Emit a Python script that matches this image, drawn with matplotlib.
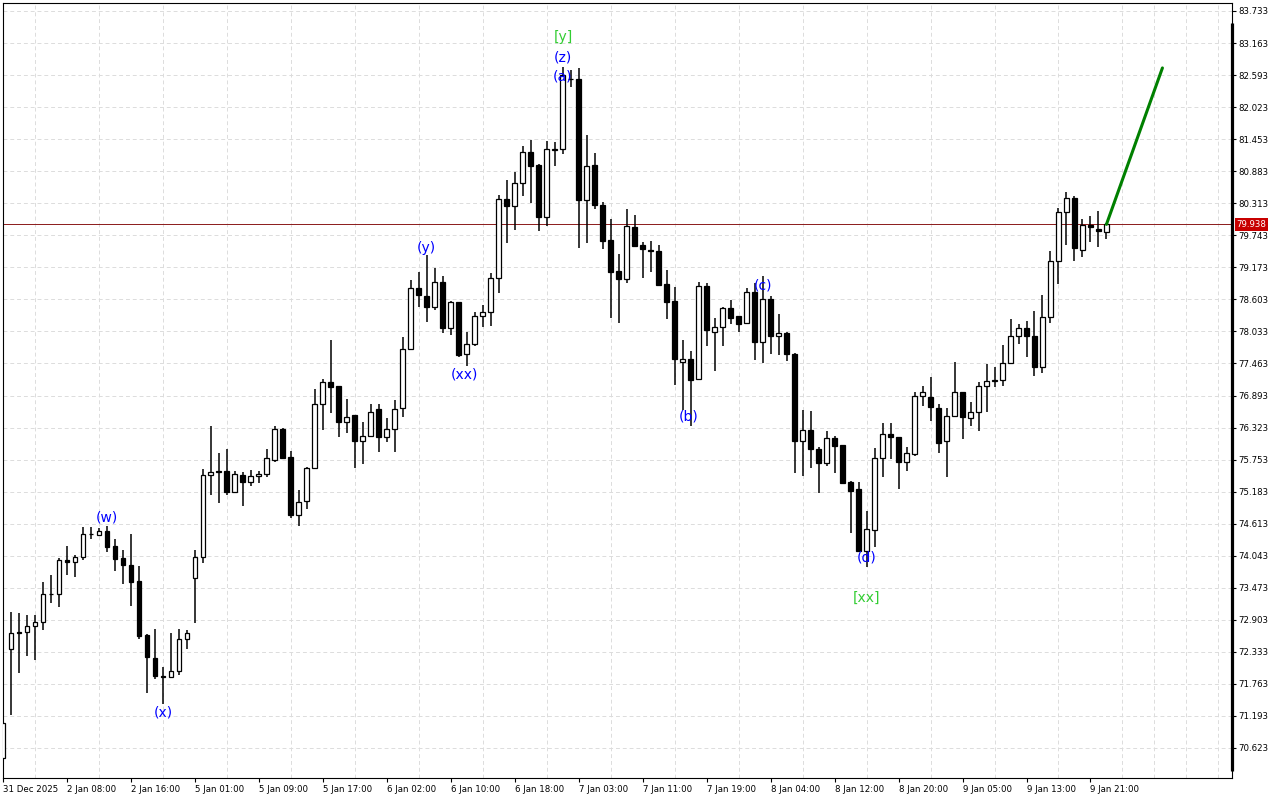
import matplotlib
matplotlib.use('Agg')
import matplotlib.pyplot as plt
import matplotlib.transforms as mtransforms

# hourly candles, bar 0 = 31 Dec 2025
opens = [70.445, 72.384, 72.687, 72.687, 72.793, 72.864, 73.363, 73.363, 73.968, 73.932,
         74.021, 74.430, 74.412, 74.483, 74.217, 74.003, 73.879, 73.594, 72.634, 72.224,
         71.904, 71.886, 71.993, 72.562, 73.647, 74.021, 75.480, 75.551, 75.551, 75.177,
         75.480, 75.355, 75.462, 75.498, 75.747, 76.298, 75.800, 74.768, 75.017, 75.604,
         76.743, 77.134, 77.063, 76.423, 76.547, 76.084, 76.173, 76.654, 76.155, 76.298,
         76.672, 77.721, 78.806, 78.664, 78.468, 78.913, 78.095, 78.557, 77.633, 77.811,
         78.308, 78.379, 78.984, 80.389, 80.264, 80.673, 81.225, 80.994, 80.069, 81.261,
         81.279, 82.524, 82.524, 80.371, 80.994, 80.282, 79.660, 79.108, 78.966, 79.891,
         79.571, 79.482, 79.464, 78.877, 78.575, 77.490, 77.543, 77.188, 78.842, 78.024,
         78.113, 78.450, 78.308, 78.184, 78.735, 77.846, 78.611, 77.952, 78.006, 77.633,
         76.084, 76.280, 75.942, 75.693, 76.138, 76.013, 75.355, 75.231, 74.128, 74.501,
         75.782, 76.209, 76.155, 75.711, 75.853, 76.885, 76.868, 76.672, 76.084, 76.529,
         76.957, 76.494, 76.601, 77.063, 77.152, 77.170, 77.472, 77.952, 78.095, 77.952,
         77.401, 78.290, 79.286, 80.158, 80.407, 79.482, 79.927, 79.856, 79.802]
highs = [71.068, 73.043, 73.025, 72.989, 72.989, 73.576, 73.701, 74.003, 74.217, 74.057,
         74.555, 74.555, 74.537, 74.572, 74.341, 74.146, 74.430, 73.861, 72.651, 72.740,
         72.064, 72.669, 72.740, 72.722, 74.146, 75.587, 76.352, 75.871, 75.942, 75.551,
         75.534, 75.569, 75.551, 75.942, 76.352, 76.316, 75.907, 75.213, 75.622, 77.010,
         77.188, 77.881, 77.063, 76.832, 76.547, 76.423, 76.743, 76.743, 76.494, 76.814,
         77.934, 78.948, 79.090, 79.393, 79.161, 79.019, 78.575, 78.557, 78.024, 78.379,
         78.504, 79.072, 80.460, 80.727, 80.869, 81.332, 81.439, 81.012, 81.421, 81.403,
         82.737, 82.684, 82.719, 81.528, 81.207, 80.336, 80.033, 79.411, 80.211, 80.104,
         79.624, 79.642, 79.571, 79.126, 78.824, 77.881, 77.686, 78.913, 78.895, 78.273,
         78.468, 78.593, 78.308, 78.806, 78.895, 79.019, 78.664, 78.344, 78.024, 77.650,
         76.636, 76.619, 75.978, 76.262, 76.173, 76.013, 75.373, 75.355, 74.839, 75.960,
         76.405, 76.405, 76.155, 75.978, 76.957, 77.063, 77.223, 76.743, 76.672, 77.490,
         76.957, 76.778, 77.134, 77.454, 77.401, 77.792, 78.255, 78.166, 78.219, 78.397,
         78.682, 79.464, 80.229, 80.514, 80.442, 80.033, 80.087, 80.176, 79.962]
lows = [70.445, 71.210, 71.957, 72.260, 72.189, 72.722, 73.203, 73.131, 73.701, 73.665,
        73.968, 74.341, 74.394, 74.110, 73.772, 73.541, 73.149, 72.562, 71.602, 71.850,
        71.406, 71.868, 71.922, 72.384, 72.846, 73.914, 75.124, 74.982, 75.124, 75.160,
        74.928, 75.284, 75.337, 75.444, 75.711, 75.782, 74.715, 74.572, 74.875, 75.604,
        76.280, 76.583, 76.155, 76.227, 75.604, 75.676, 76.155, 75.889, 76.066, 75.889,
        76.512, 77.703, 78.468, 78.202, 78.415, 78.006, 77.970, 77.579, 77.419, 77.775,
        78.113, 78.130, 78.718, 79.606, 79.838, 80.442, 80.318, 79.820, 79.909, 80.976,
        81.190, 82.381, 79.518, 79.606, 80.211, 79.500, 78.273, 78.184, 78.895, 79.553,
        78.984, 79.090, 78.842, 78.255, 77.081, 76.636, 76.352, 77.188, 77.775, 77.330,
        77.775, 78.166, 78.024, 78.166, 77.526, 77.472, 77.633, 77.615, 77.508, 75.516,
        75.462, 75.604, 75.160, 75.640, 75.516, 75.337, 74.448, 74.128, 73.843, 74.199,
        75.444, 75.764, 75.231, 75.551, 75.818, 76.707, 76.441, 75.871, 75.444, 76.529,
        76.120, 76.352, 76.262, 76.601, 77.045, 77.063, 77.472, 77.811, 77.579, 77.241,
        77.294, 78.184, 78.877, 79.571, 79.286, 79.358, 79.624, 79.535, 79.676]
closes = [71.068, 72.669, 72.669, 72.793, 72.864, 73.363, 73.354, 73.968, 73.932, 74.021,
          74.430, 74.425, 74.483, 74.199, 73.985, 73.879, 73.576, 72.616, 72.242, 71.904,
          71.886, 71.993, 72.562, 72.669, 74.021, 75.480, 75.534, 75.534, 75.177, 75.498,
          75.355, 75.462, 75.498, 75.782, 76.298, 75.782, 74.768, 74.999, 75.604, 76.743,
          77.134, 77.045, 76.423, 76.512, 76.084, 76.173, 76.601, 76.155, 76.298, 76.654,
          77.721, 78.806, 78.682, 78.468, 78.913, 78.095, 78.557, 77.615, 77.811, 78.308,
          78.379, 78.984, 80.389, 80.264, 80.673, 81.225, 80.976, 80.069, 81.279, 81.270,
          82.595, 82.530, 80.371, 80.976, 80.282, 79.642, 79.090, 78.966, 79.909, 79.553,
          79.500, 79.464, 78.859, 78.557, 77.543, 77.543, 77.170, 78.842, 78.059, 78.113,
          78.450, 78.273, 78.166, 78.735, 77.846, 78.611, 77.952, 78.006, 77.633, 76.084,
          76.280, 75.942, 75.693, 76.138, 75.996, 75.337, 75.195, 74.128, 74.519, 75.782,
          76.209, 76.155, 75.711, 75.871, 76.885, 76.957, 76.690, 76.049, 76.529, 76.957,
          76.512, 76.601, 77.063, 77.152, 77.170, 77.472, 77.952, 78.095, 77.952, 77.401,
          78.290, 79.286, 80.158, 80.407, 79.518, 79.927, 79.891, 79.820, 79.938]

time_labels = ['31 Dec 2025', '2 Jan 08:00', '2 Jan 16:00', '5 Jan 01:00', '5 Jan 09:00',
               '5 Jan 17:00', '6 Jan 02:00', '6 Jan 10:00', '6 Jan 18:00', '7 Jan 03:00',
               '7 Jan 11:00', '7 Jan 19:00', '8 Jan 04:00', '8 Jan 12:00', '8 Jan 20:00',
               '9 Jan 05:00', '9 Jan 13:00', '9 Jan 21:00']
price_ticks = [70.623, 71.193, 71.763, 72.333, 72.903, 73.473, 74.043, 74.613, 75.183,
               75.753, 76.323, 76.893, 77.463, 78.033, 78.603, 79.173, 79.743, 80.313,
               80.883, 81.453, 82.023, 82.593, 83.163, 83.733]
last_price = 79.938

# forecast line (bar index, price)
forecast_x = [138, 145]
forecast_y = [79.938, 82.72]

# wave labels
wave_text = ['(w)', '(x)', '(y)', '(xx)', '[y]', '(z)', '(a)', '(b)', '(c)', '(d)', '[xx]']
wave_x = [13, 20, 53, 57.7, 70.1, 70, 70, 85.8, 95, 108, 108]
wave_y = [74.715, 71.246, 79.518, 77.258, 83.271, 82.897, 82.559, 76.511, 78.842, 74.003, 73.292]
wave_col = ['#0000FF', '#0000FF', '#0000FF', '#0000FF', '#32CD32', '#0000FF', '#0000FF',
            '#0000FF', '#0000FF', '#0000FF', '#32CD32']

plt.rcParams['font.family'] = ['DejaVu Sans']
fig = plt.figure(figsize=(12.8, 8), dpi=100)
ax = fig.add_axes([3 / 1280, 22 / 800, 1229 / 1280, 775 / 800])

n = len(opens)
xs = list(range(n))

# wicks
ax.vlines(xs, lows, highs, color='black', lw=1.1, zorder=2)
# bodies
for i in xs:
    o, c = opens[i], closes[i]
    bottom = min(o, c)
    h = max(abs(c - o), 0.004)
    fc = 'white' if c > o else 'black'
    ax.bar(i, h, bottom=bottom, width=0.6, facecolor=fc, edgecolor='black',
           lw=0.9, zorder=3)

ax.axhline(last_price, color='#8B1A1A', lw=0.7, zorder=1)
ax.plot(forecast_x, forecast_y, color='#008000', lw=2.2, zorder=4,
        solid_capstyle='round')

for t, x, y, c in zip(wave_text, wave_x, wave_y, wave_col):
    ax.text(x, y, t, color=c, fontsize=10, ha='center', va='center', zorder=5)

ax.set_xlim(0.09, 153.7)
ax.set_ylim(70.089, 83.875)

ax.set_xticks(list(range(0, 8 * len(time_labels), 8)))
ax.set_xticklabels(time_labels, ha='left')
ax.set_xticks(list(range(0, 154, 4)), minor=True)
ax.yaxis.tick_right()
ax.set_yticks(price_ticks)
ax.set_yticklabels(['%.3f' % p for p in price_ticks])

ax.tick_params(axis='x', which='major', direction='out', length=3, width=0.8,
               pad=2, labelsize=6.2)
ax.tick_params(axis='x', which='minor', length=0)
ax.tick_params(axis='y', direction='out', length=3, width=0.8, pad=1.5,
               labelsize=6.2)

ax.grid(which='minor', axis='x', color='#DCDCDC', lw=0.7, ls=(0, (4, 3)))
ax.grid(which='major', axis='y', color='#DCDCDC', lw=0.7, ls=(0, (4, 3)))
ax.grid(which='major', axis='x', visible=False)
ax.set_axisbelow(True)

for s in ax.spines.values():
    s.set_linewidth(0.8)

# thick scale bar on the right
ax.plot([1.0, 1.0], [7 / 775, 755 / 775], transform=ax.transAxes, color='black',
        lw=2.3, clip_on=False, solid_capstyle='butt', zorder=6)

tr = mtransforms.blended_transform_factory(ax.transAxes, ax.transData)
ax.text(1.0035, last_price, '%.3f' % last_price, transform=tr, color='white',
        fontsize=6.2, ha='left', va='center', zorder=7,
        bbox=dict(boxstyle='square,pad=0.2', fc='#C80000', ec='none'))

fig.savefig('out.png', dpi=100)
